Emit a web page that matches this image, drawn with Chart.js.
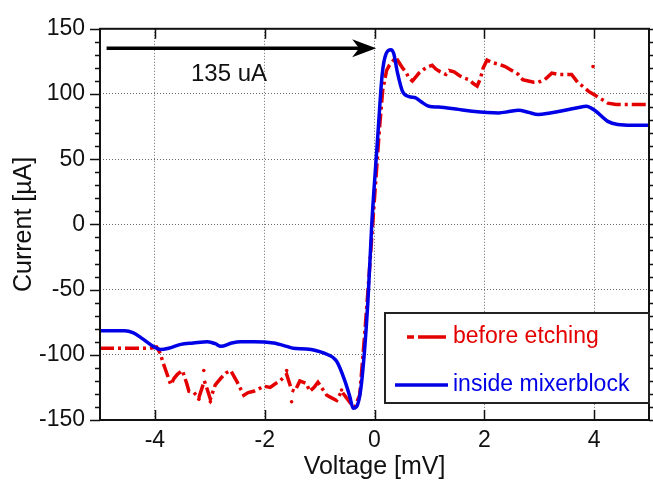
<!DOCTYPE html>
<html><head><meta charset="utf-8">
<script src="https://cdn.jsdelivr.net/npm/chart.js@4/dist/chart.umd.min.js"></script>
<style>html,body{margin:0;padding:0;background:#fff;} canvas{display:block;}</style>
</head><body>
<canvas id="c" width="653" height="490"></canvas>
<script>
const xTicks = [-4, -2, 0, 2, 4];
const yTicks = [-150, -100, -50, 0, 50, 100, 150];
const yMinorStep = 10;
const seriesNames = ['before etching', 'inside mixerblock'];

const beforeX = [-5.0,-4.5,-4.1,-3.97,-3.9,-3.86,-3.71,-3.65,-3.59,-3.5,-3.42,-3.38,-3.29,-3.2,-3.1,-3.05,-2.99,-2.9,-2.8,-2.71,-2.62,-2.5,-2.38,-2.3,-2.2,-2.1,-2.02,-1.9,-1.8,-1.72,-1.6,-1.51,-1.45,-1.36,-1.24,-1.18,-1.1,-1.03,-0.95,-0.87,-0.78,-0.69,-0.6,-0.51,-0.42,-0.36,-0.27,-0.18,-0.1,0.0,0.09,0.15,0.22,0.27,0.33,0.39,0.45,0.51,0.57,0.63,0.69,0.75,0.81,0.9,0.98,1.05,1.12,1.2,1.3,1.36,1.45,1.55,1.65,1.72,1.8,1.87,1.93,1.98,2.05,2.15,2.25,2.38,2.5,2.62,2.7,2.8,2.9,2.98,3.1,3.23,3.35,3.47,3.59,3.7,3.82,3.9,3.98,4.1,4.25,4.4,4.7,5.0];
const beforeY = [-95,-95,-95,-94,-99,-105,-123,-118,-115,-112,-122,-128,-129,-133,-120,-126,-134,-123,-118,-114,-112,-121,-131,-129,-128,-126,-124,-125,-122,-120,-115,-127,-128,-120,-122,-128,-125,-121,-126,-131,-133,-135,-128,-133,-138,-140,-131,-85,-40,20,73,103,118,122,125,128,124,120,117,112,110,113,116,119,121,122,119,117,115,118,117,114,112,111,108,106,112,120,126,124,123,121,118,115,111,110,109,109,111,116,115,115,115,109,105,102,100,97,93,92,92,92];

const beforeDotsX = [-3.2, -3.11, -2.99, -1.6, -1.51, -0.6, 3.98];
const beforeDotsY = [-134, -112, -136, -112, -136, -127, 121];

const insideX = [-5.0,-4.55,-4.4,-4.25,-4.05,-3.9,-3.75,-3.53,-3.3,-3.04,-2.9,-2.8,-2.6,-2.44,-2.2,-1.84,-1.6,-1.48,-1.24,-0.93,-0.69,-0.54,-0.45,-0.39,-0.33,-0.24,-0.12,-0.05,0.03,0.06,0.14,0.21,0.30,0.35,0.42,0.51,0.63,0.75,0.85,0.99,1.17,1.48,1.78,2.26,2.45,2.62,2.8,2.98,3.2,3.47,3.7,3.86,4.01,4.25,4.43,4.7,5.0];
const insideY = [-81.5,-81.5,-83,-87,-93,-96,-95,-92,-91,-90,-91.5,-93.5,-91,-90,-90,-91,-93.5,-95,-95.5,-98.6,-105,-120,-132,-141,-140,-123,-59,0,50,68,115,130.8,134,131,116,102,98,97,94,90.6,90,88.5,86.8,85.5,86.5,87.5,86,84.2,85.5,87.5,89.5,90.6,87.5,79,76.6,76,76];

const arrowFrom = [-4.88, 135];
const arrowTo = [0.03, 135];
const arrowText = '135 uA';
const arrowTextAt = [-2.65, 110];

const RED = 'rgb(228,0,0)';
const BLUE = 'rgb(0,0,230)';
const FONT = '"Liberation Sans", Arial, Helvetica, sans-serif';

const toPts = (xs, ys) => xs.map((v, i) => ({x: v, y: ys[i]}));

const decor = {
  id: 'decor',
  afterDatasetsDraw(chart) {
    const {ctx, chartArea: a, scales: {x, y}} = chart;
    ctx.save();
    // arrow annotation
    const x1 = x.getPixelForValue(arrowFrom[0]);
    const ay = y.getPixelForValue(arrowFrom[1]);
    const x2 = x.getPixelForValue(arrowTo[0]);
    ctx.strokeStyle = '#000'; ctx.lineWidth = 3.5; ctx.setLineDash([]);
    ctx.beginPath(); ctx.moveTo(x1, ay); ctx.lineTo(x2 - 15, ay); ctx.stroke();
    ctx.fillStyle = '#000';
    ctx.beginPath(); ctx.moveTo(x2, ay); ctx.lineTo(x2 - 24, ay - 9); ctx.lineTo(x2 - 17, ay); ctx.lineTo(x2 - 24, ay + 9); ctx.closePath(); ctx.fill();
    ctx.font = '24px ' + FONT; ctx.textAlign = 'center'; ctx.textBaseline = 'alphabetic';
    ctx.fillStyle = '#111';
    ctx.fillText(arrowText, x.getPixelForValue(arrowTextAt[0]), y.getPixelForValue(arrowTextAt[1]));

    // frame
    ctx.lineWidth = 2; ctx.strokeStyle = '#111';
    ctx.strokeRect(a.left, a.top, a.right - a.left, a.bottom - a.top);

    // ticks
    ctx.lineWidth = 1.5;
    ctx.beginPath();
    const yMin = yTicks[0], yMax = yTicks[yTicks.length - 1];
    for (let v = yMin; v <= yMax; v += yMinorStep) {
      const py = Math.round(y.getPixelForValue(v)) + 0.5;
      const len = yTicks.includes(v) ? 10 : 5;
      ctx.moveTo(a.left - len, py); ctx.lineTo(a.left, py);
      ctx.moveTo(a.right, py); ctx.lineTo(a.right + len, py);
    }
    for (const v of xTicks) {
      const px = Math.round(x.getPixelForValue(v)) + 0.5;
      ctx.moveTo(px, a.top); ctx.lineTo(px, a.top + 10);
      ctx.moveTo(px, a.bottom); ctx.lineTo(px, a.bottom - 10);
    }
    ctx.stroke();

    // legend
    const L = {x: 385, y: 313, w: 264, h: 90};
    ctx.fillStyle = '#fff';
    ctx.fillRect(L.x, L.y, L.w, L.h);
    ctx.lineWidth = 2; ctx.strokeStyle = '#222';
    ctx.strokeRect(L.x, L.y, L.w, L.h);
    ctx.font = '23px ' + FONT; ctx.textAlign = 'left'; ctx.textBaseline = 'middle';
    const ds = chart.data.datasets;
    ctx.strokeStyle = ds[0].borderColor; ctx.lineWidth = 3.5;
    ctx.beginPath(); ctx.moveTo(407, 337); ctx.lineTo(414, 337); ctx.moveTo(418, 337); ctx.lineTo(446, 337); ctx.stroke();
    ctx.fillStyle = ds[0].borderColor; ctx.fillText(ds[0].label, 453, 337);
    ctx.strokeStyle = ds[1].borderColor;
    ctx.beginPath(); ctx.moveTo(395, 385); ctx.lineTo(448, 385); ctx.stroke();
    ctx.fillStyle = ds[1].borderColor; ctx.fillText(ds[1].label, 453, 385);
    ctx.restore();
  }
};

new Chart(document.getElementById('c'), {
  type: 'scatter',
  data: {
    datasets: [
      {label: seriesNames[0], data: toPts(beforeX, beforeY), showLine: true, borderColor: RED, backgroundColor: RED,
       borderWidth: 3.5, borderDash: [14, 4, 3, 4], pointRadius: 0, tension: 0, order: 2},
      {label: seriesNames[1], data: toPts(insideX, insideY), showLine: true, borderColor: BLUE, backgroundColor: BLUE,
       borderWidth: 3.5, pointRadius: 0, cubicInterpolationMode: 'monotone', order: 1},
      {label: 'dots', data: toPts(beforeDotsX, beforeDotsY), showLine: false, borderColor: RED, backgroundColor: RED,
       pointRadius: 1.8, borderWidth: 0, order: 3}
    ]
  },
  options: {
    responsive: false,
    animation: false,
    layout: {padding: {top: 25, right: 3, left: 0, bottom: 0}},
    plugins: {legend: {display: false}, tooltip: {enabled: false}},
    scales: {
      x: {
        type: 'linear', min: -5, max: 5,
        afterBuildTicks: s => { s.ticks = xTicks.map(v => ({value: v})); },
        afterFit: s => { s.height = 70; },
        grid: {color: '#6a6a6a', lineWidth: 1, drawTicks: false},
        border: {display: false, dash: [1, 2]},
        ticks: {padding: 7, color: '#111', font: {size: 23, family: FONT}},
        title: {display: true, text: 'Voltage [mV]', color: '#111', font: {size: 25, family: FONT}, padding: {top: 0, bottom: 8}}
      },
      y: {
        type: 'linear', min: -150, max: 150,
        afterBuildTicks: s => { s.ticks = yTicks.map(v => ({value: v})); },
        afterFit: s => { s.width = 100; },
        grid: {color: '#6a6a6a', lineWidth: 1, drawTicks: false},
        border: {display: false, dash: [1, 2]},
        ticks: {padding: 15, color: '#111', font: {size: 23, family: FONT}},
        title: {display: true, text: 'Current [µA]', color: '#111', font: {size: 25, family: FONT}, padding: {top: 9, bottom: 0}}
      }
    }
  },
  plugins: [decor]
});
</script>
</body></html>
